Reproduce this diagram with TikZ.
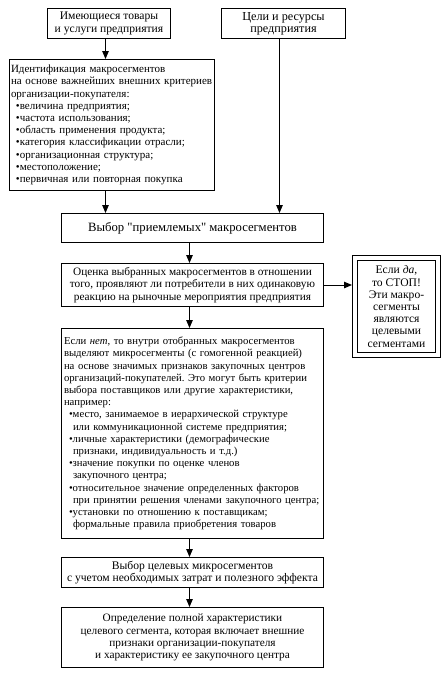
\documentclass[tikz,border=0pt]{standalone}
\usepackage{fontspec}
\setmainfont{Liberation Serif}
\newfontfamily\pryamo{Liberation Serif}[Ligatures=TeXOff]
\usetikzlibrary{arrows.meta}
\frenchspacing
\newcommand{\punkt}{\hspace*{5pt}\textbullet}
\newcommand{\dalee}{\hspace*{9pt}}
\newcommand{\razmer}[1]{\fontsize{#1}{12.2}\selectfont}
\begin{document}
\begin{tikzpicture}[x=1pt,y=-1pt,
    blok/.style={draw,line width=1pt,anchor=north west,inner sep=2pt,font=\razmer{11.3}},
    strelka/.style={-{Triangle[length=8pt,width=6.5pt]},line width=1pt}]
    \useasboundingbox (0,0) rectangle (446,673);
    \node[blok,align=center,minimum width=123,minimum height=30,font=\razmer{11.6}] (tovary) at (47,8)
      {Имеющиеся товары\\ и услуги предприятия};
    \node[blok,align=center,minimum width=124,minimum height=30,font=\razmer{12.2}] (celi) at (221,8)
      {Цели и ресурсы\\ предприятия};
    \node[blok,align=left,minimum width=205,minimum height=131,text width=202,
      inner xsep=1.5pt,font=\razmer{11}] (ident) at (9,59)
      {Идентификация макросегментов\\ \mbox{на основе важнейших внешних критериев}\\
       организации-покупателя:\\ \punkt величина предприятия;\\
       \punkt частота использования;\\ \punkt область применения продукта;\\
       \punkt категория классификации отрасли;\\ \punkt организационная структура;\\
       \punkt местоположение;\\ \punkt первичная или повторная покупка};
    \node[blok,align=center,minimum width=262,minimum height=29,font=\razmer{12.7}] (vybor) at (61,213)
      {Выбор {\pryamo"}приемлемых{\pryamo"} макросегментов};
    \node[blok,align=center,minimum width=262,minimum height=43] (ocenka) at (61,263)
      {Оценка выбранных макросегментов в отношении\\
       того, проявляют ли потребители в них одинаковую\\
       реакцию на рыночные мероприятия предприятия};
    \node[blok,align=center,minimum width=83,minimum height=97,
      double,double distance=4pt,font=\razmer{11.6}] (stop) at (354.5,257.5)
      {Если \textit{да},\\ то СТОП!\\ Эти макро-\\ сегменты\\ являются\\ целевыми\\ сегментами};
    \node[blok,align=left,minimum width=262,minimum height=210,text width=257,
      inner xsep=2.5pt,font=\razmer{10.7}] (mikro) at (61,328)
      {Если \textit{нет}, то внутри отобранных макросегментов\\
       выделяют микросегменты (с гомогенной реакцией)\\
       на основе значимых признаков закупочных центров\\
       организаций-покупателей. Это могут быть критерии\\
       выбора поставщиков или другие характеристики,\\
       например:\\
       \punkt место, занимаемое в иерархической структуре\\
       \dalee или коммуникационной системе предприятия;\\
       \punkt личные характеристики (демографические\\
       \dalee признаки, индивидуальность и т.д.)\\
       \punkt значение покупки по оценке членов\\
       \dalee закупочного центра;\\
       \punkt относительное значение определенных факторов\\
       \dalee\mbox{при принятии решения членами закупочного центра;}\\
       \punkt установки по отношению к поставщикам;\\
       \dalee формальные правила приобретения товаров};
    \node[blok,align=center,minimum width=262,minimum height=30,font=\razmer{11.6}] (celevye) at (61,557)
      {Выбор целевых микросегментов\\ с учетом необходимых затрат и полезного эффекта};
    \node[blok,align=center,minimum width=262,minimum height=60] (opred) at (61,607)
      {Определение полной характеристики\\ целевого сегмента, которая включает внешние\\
       признаки организации-покупателя\\ и характеристику ее закупочного центра};
    % strelki
    \draw[strelka] ([xshift=-3.5pt]tovary.south) -- ([xshift=-3.5pt]tovary.south |- ident.north);
    \draw[strelka] ([xshift=-3.5pt]tovary.south |- ident.south) -- ([xshift=-3.5pt]tovary.south |- vybor.north);
    \draw[strelka] ([xshift=-4pt]celi.south) -- ([xshift=-4pt]celi.south |- vybor.north);
    \draw[strelka] ([xshift=-3pt]vybor.south) -- ([xshift=-3pt]vybor.south |- ocenka.north);
    \draw[strelka,shorten >=2.5pt] (ocenka.east) -- (ocenka.east -| stop.west);
    \draw[strelka] ([xshift=-3pt]ocenka.south) -- ([xshift=-3pt]ocenka.south |- mikro.north);
    \draw[strelka] ([xshift=-3pt]mikro.south) -- ([xshift=-3pt]mikro.south |- celevye.north);
    \draw[strelka] ([xshift=-3pt]celevye.south) -- ([xshift=-3pt]celevye.south |- opred.north);
\end{tikzpicture}
\end{document}
